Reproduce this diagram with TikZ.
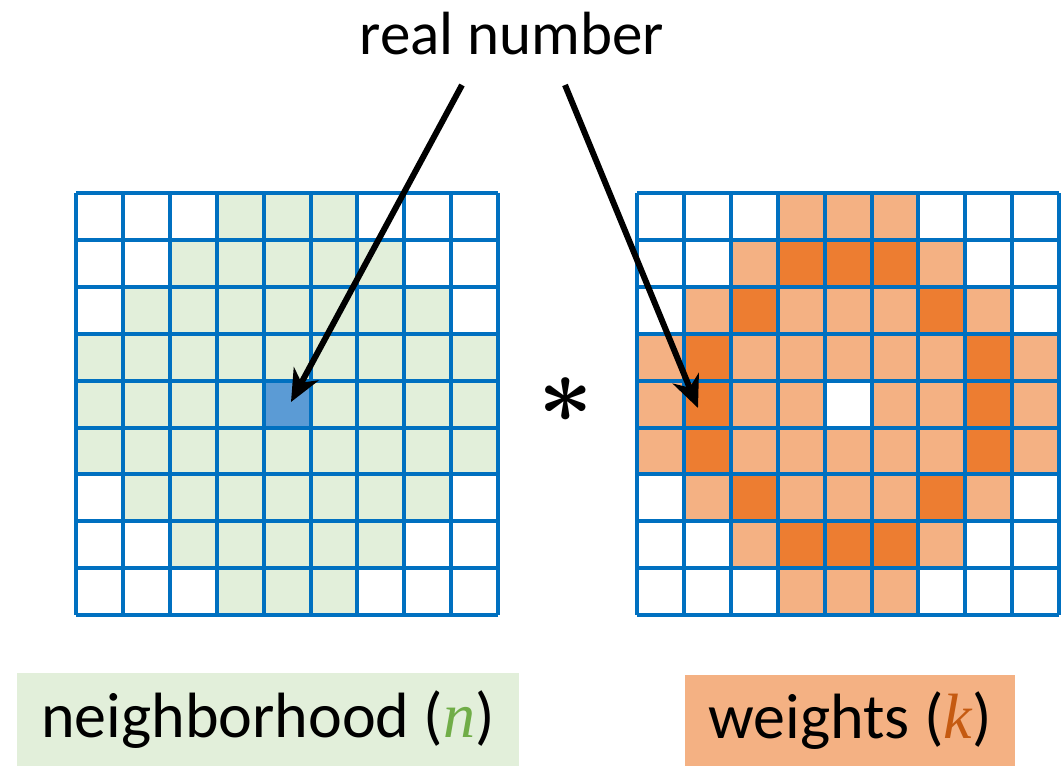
\documentclass[tikz,border=0pt]{standalone}
\usepackage{amsmath}
\usepackage{fontspec}
\setmainfont{Carlito}
\newfontfamily\varfont{Liberation Serif}
\usetikzlibrary{arrows.meta}
\definecolor{gridblue}{HTML}{0070C0}
\definecolor{nbgreen}{HTML}{E2EFDA}
\definecolor{ctrblue}{HTML}{5B9BD5}
\definecolor{lorange}{HTML}{F4B183}
\definecolor{dorange}{HTML}{ED7D31}
\definecolor{ngreen}{HTML}{70AD47}
\definecolor{kbrown}{HTML}{C55A11}
\begin{document}
\begin{tikzpicture}[x=1pt,y=-1pt,
  gridline/.style={draw=gridblue,line width=4pt},
  pointer/.style={draw=black,line width=6pt,-{Stealth[length=32pt,width=28pt,inset=10pt]}},
  labelbox/.style={inner sep=0pt,font=\fontsize{64}{70}\selectfont,text=black}]
\useasboundingbox (0,0) rectangle (1063,767);
\def\cs{46.9}
% cell fills
\foreach \r in {0,...,8}{
  \foreach \c in {0,...,8}{
    \pgfmathtruncatemacro\dd{(\r-4)*(\r-4)+(\c-4)*(\c-4)}
    \ifnum\dd<18
      \fill[nbgreen] (76+\c*\cs,193+\r*\cs) rectangle ++(\cs,\cs);
      \fill[lorange] (637+\c*\cs,193+\r*\cs) rectangle ++(\cs,\cs);
    \fi
    \ifnum\dd>7 \ifnum\dd<11
      \fill[dorange] (637+\c*\cs,193+\r*\cs) rectangle ++(\cs,\cs);
    \fi\fi
  }
}
\fill[ctrblue] (76+4*\cs,193+4*\cs) rectangle ++(\cs,\cs);
\fill[white] (637+4*\cs,193+4*\cs) rectangle ++(\cs,\cs);
% grid lines
\foreach \i in {0,...,9}{
  \draw[gridline] (76+\i*\cs,193) -- (76+\i*\cs,193+9*\cs);
  \draw[gridline] (76,193+\i*\cs) -- (76+9*\cs,193+\i*\cs);
  \draw[gridline] (637+\i*\cs,193) -- (637+\i*\cs,193+9*\cs);
  \draw[gridline] (637,193+\i*\cs) -- (637+9*\cs,193+\i*\cs);
}
% title and arrows
\node[anchor=base,inner sep=0pt,font=\fontsize{61}{66}\selectfont] (title) at (512,55) {real number};
\coordinate (lstart) at (462,85);
\coordinate (rstart) at (565,85);
\coordinate (ltip) at (291,402);
\coordinate (rtip) at (698,408);
\draw[pointer] (lstart) -- (ltip);
\draw[pointer] (rstart) -- (rtip);
% operator
\node[inner sep=0pt] (op) at (566,400) {\scalebox{9.5}{$\boldsymbol{\ast}$}};
% labels
\node[labelbox,fill=nbgreen,minimum width=502pt,minimum height=93pt] (nlabel) at (268,719.5)
  {neighborhood (\textcolor{ngreen}{\varfont\itshape n})};
\node[labelbox,fill=lorange,minimum width=330pt,minimum height=91pt] (klabel) at (850,720.5)
  {weights (\textcolor{kbrown}{\varfont\itshape k})};
\end{tikzpicture}
\end{document}
